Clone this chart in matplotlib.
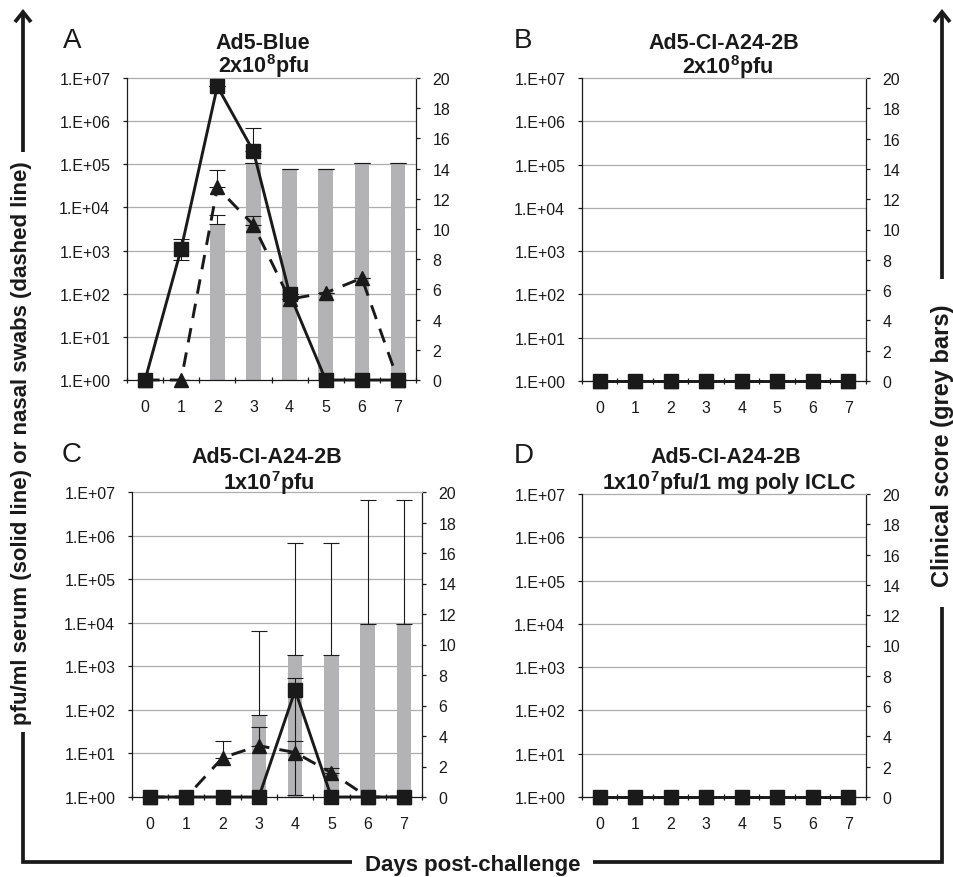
import matplotlib
matplotlib.use("Agg")
import matplotlib.pyplot as plt
import matplotlib.transforms as mtrans
from matplotlib.lines import Line2D
from matplotlib.ticker import NullLocator, FixedLocator

plt.rcParams['font.family'] = ['Liberation Sans', 'DejaVu Sans']
plt.rcParams['mathtext.fontset'] = 'custom'
plt.rcParams['mathtext.rm'] = 'Liberation Sans:bold'
plt.rcParams['mathtext.it'] = 'Liberation Sans:bold'
plt.rcParams['mathtext.bf'] = 'Liberation Sans:bold'

# ---------------- data ----------------
days = [0, 1, 2, 3, 4, 5, 6, 7]
day_labels = ['0', '1', '2', '3', '4', '5', '6', '7']
log_ticks = [1e0, 1e1, 1e2, 1e3, 1e4, 1e5, 1e6, 1e7]
log_tick_labels = ['1.E+00', '1.E+01', '1.E+02', '1.E+03', '1.E+04', '1.E+05', '1.E+06', '1.E+07']
score_ticks = [0, 2, 4, 6, 8, 10, 12, 14, 16, 18, 20]

# Panel A: Ad5-Blue 2x10^8 pfu
A_serum = [1, 1.1e3, 6.4e6, 2.0e5, 1.0e2, 1, 1, 1]
A_serum_err_up = [0, 800, 0, 4.9e5, 0, 0, 0, 0]
A_serum_err_dn = [0, 500, 0, 0, 0, 0, 0, 0]
A_nasal = [1, 1, 2.9e4, 3.9e3, 75, 105, 230, 1]
A_nasal_err_up = [0, 0, 4.5e4, 2.4e3, 0, 0, 0, 0]
A_score = [0, 0, 10.3, 14.4, 14.0, 14.0, 14.4, 14.4]
A_score_err = [0, 0, 0.6, 0, 0, 0, 0, 0]

# Panel B: Ad5-CI-A24-2B 2x10^8 pfu
B_serum = [1, 1, 1, 1, 1, 1, 1, 1]
B_nasal = [1, 1, 1, 1, 1, 1, 1, 1]
B_score = [0, 0, 0, 0, 0, 0, 0, 0]

# Panel C: Ad5-CI-A24-2B 1x10^7 pfu
C_serum = [1, 1, 1, 1, 280, 1, 1, 1]
C_serum_err_up = [0, 0, 0, 0, 270, 0, 0, 0]
C_serum_err_dn = [0, 0, 0, 0, 278.9, 0, 0, 0]
C_nasal = [1, 1, 8.0, 15, 10.5, 3.6, 1, 1]
C_nasal_err_up = [0, 0, 11.4, 26, 8.9, 1.1, 0, 0]
C_score = [0, 0, 0, 5.4, 9.33, 9.33, 11.35, 11.35]
C_score_err = [0, 0, 0, 5.5, 7.34, 7.34, 8.15, 8.15]

# Panel D: Ad5-CI-A24-2B 1x10^7 pfu / 1 mg poly ICLC
D_serum = [1, 1, 1, 1, 1, 1, 1, 1]
D_nasal = [1, 1, 1, 1, 1, 1, 1, 1]
D_score = [0, 0, 0, 0, 0, 0, 0, 0]

title_line1 = ['Ad5-Blue', 'Ad5-CI-A24-2B', 'Ad5-CI-A24-2B', 'Ad5-CI-A24-2B']
title_line2 = [r'2x10$^{8}$pfu', r'2x10$^{8}$pfu', r'1x10$^{7}$pfu', r'1x10$^{7}$pfu/1 mg poly ICLC']
letters = ['A', 'B', 'C', 'D']
left_label = 'pfu/ml serum (solid line) or nasal swabs (dashed line)'
right_label = 'Clinical score (grey bars)'
bottom_label = 'Days post-challenge'

# ---------------- layout ----------------
W, H = 954, 878
fig = plt.figure(figsize=(W / 100, H / 100), dpi=100)
fig.patch.set_facecolor('white')

def fx(x):
    return x / W

def fy(y):
    return 1 - y / H

BAR_COLOR = '#b3b3b5'
GRID_COLOR = '#adadad'
INK = '#1a1a1a'

panel_boxes = [(127, 79, 416, 381), (582, 79, 866, 382), (132, 493, 422, 798), (582, 495, 866, 798)]
title_pos = [((263, 49), (264, 73)), ((724, 49), (728, 74)), ((267, 463), (269, 490)), ((726, 463), (729, 490))]
letter_pos = [(63, 48), (514, 48), (62, 462), (514, 463)]

zeros = [0] * 8
serum_list = [A_serum, B_serum, C_serum, D_serum]
serum_up = [A_serum_err_up, zeros, C_serum_err_up, zeros]
serum_dn = [A_serum_err_dn, zeros, C_serum_err_dn, zeros]
nasal_list = [A_nasal, B_nasal, C_nasal, D_nasal]
nasal_up = [A_nasal_err_up, zeros, C_nasal_err_up, zeros]
score_list = [A_score, B_score, C_score, D_score]
score_err = [A_score_err, zeros, C_score_err, zeros]

for i in range(4):
    l, t, r, b = panel_boxes[i]
    axb = fig.add_axes([fx(l), fy(b), fx(r - l), (b - t) / H])
    axl = axb.twinx()
    axb.yaxis.tick_right()
    axl.yaxis.tick_left()

    # bar (clinical score) axis
    axb.set_xlim(-0.5, 7.5)
    axb.set_ylim(0, 20)
    axb.set_yticks(score_ticks)
    axb.set_yticklabels([str(v) for v in score_ticks])
    axb.tick_params(axis='y', which='major', direction='out', length=3, width=0.9,
                    color=INK, labelsize=11.5, labelcolor=INK, pad=9, right=True, left=False)
    axb.set_xticks(days)
    axb.set_xticklabels(day_labels)
    axb.xaxis.set_minor_locator(FixedLocator([d - 0.5 for d in days] + [7.5]))
    axb.tick_params(axis='x', which='major', length=0, labelsize=11.5, labelcolor=INK, pad=14)
    axb.tick_params(axis='x', which='minor', direction='inout', length=5, width=0.9, color=INK)

    axb.spines['left'].set_visible(False)
    axb.spines['right'].set_color(INK)
    axb.spines['right'].set_linewidth(0.9)
    axb.spines['bottom'].set_color(INK)
    axb.spines['bottom'].set_linewidth(0.9)
    axb.spines['top'].set_color(GRID_COLOR)
    axb.spines['top'].set_linewidth(0.9)

    # log axis
    axl.set_yscale('log')
    axl.set_ylim(1, 1e7)
    axl.set_yticks(log_ticks)
    axl.set_yticklabels(log_tick_labels)
    axl.yaxis.set_minor_locator(NullLocator())
    axl.tick_params(axis='y', which='major', direction='out', length=3, width=0.9,
                    color=INK, labelsize=11.5, labelcolor=INK, pad=9, left=True, right=False)
    for s in ['right', 'top', 'bottom']:
        axl.spines[s].set_visible(False)
    axl.spines['left'].set_color(INK)
    axl.spines['left'].set_linewidth(0.9)

    # gridlines (behind bars, positioned on log scale)
    gtrans = mtrans.blended_transform_factory(axb.transAxes, axl.transData)
    for v in log_ticks[1:-1]:
        axb.add_line(Line2D([0, 1], [v, v], transform=gtrans, color=GRID_COLOR, lw=0.9, zorder=0.5))

    # bars
    axb.bar(days, score_list[i], width=0.4, color=BAR_COLOR, zorder=2)
    axb.errorbar(days, score_list[i], yerr=[zeros, score_err[i]], fmt='none', ecolor=INK,
                 elinewidth=0.8, capsize=5.5, capthick=0.8, zorder=3)

    # error bars of lines
    axl.errorbar(days, nasal_list[i], yerr=[zeros, nasal_up[i]], fmt='none', ecolor=INK,
                 elinewidth=0.8, capsize=5.5, capthick=0.8, zorder=2)
    axl.errorbar(days, serum_list[i], yerr=[serum_dn[i], serum_up[i]], fmt='none', ecolor=INK,
                 elinewidth=0.8, capsize=5.5, capthick=0.8, zorder=2)
    # nasal swabs (dashed, triangles)
    axl.plot(days, nasal_list[i], color=INK, lw=2.1, linestyle=(0, (5, 3.5)), marker='^',
             markersize=9.5, markerfacecolor=INK, markeredgecolor=INK, zorder=3, clip_on=False)
    # serum (solid, squares)
    axl.plot(days, serum_list[i], color=INK, lw=2.1, linestyle='-', marker='s',
             markersize=10, markerfacecolor=INK, markeredgecolor=INK, zorder=4, clip_on=False)

    (t1x, t1y), (t2x, t2y) = title_pos[i]
    fig.text(fx(t1x), fy(t1y), title_line1[i], ha='center', va='baseline', fontsize=15.5,
             fontweight='bold', color=INK)
    fig.text(fx(t2x), fy(t2y), title_line2[i], ha='center', va='baseline', fontsize=15.5,
             fontweight='bold', color=INK)
    lx, ly = letter_pos[i]
    fig.text(fx(lx), fy(ly), letters[i], ha='left', va='baseline', fontsize=20, color=INK)

# ---------------- outer frame with arrows ----------------
FRAME_LW = 2.7

def seg(x0, y0, x1, y1):
    fig.add_artist(Line2D([fx(x0), fx(x1)], [fy(y0), fy(y1)], transform=fig.transFigure,
                          color=INK, lw=FRAME_LW, solid_capstyle='butt', solid_joinstyle='miter'))

def corner(xs, ys):
    fig.add_artist(Line2D([fx(x) for x in xs], [fy(y) for y in ys], transform=fig.transFigure,
                          color=INK, lw=FRAME_LW, solid_capstyle='butt', solid_joinstyle='miter'))

def arrowhead(x, y):
    fig.add_artist(Line2D([fx(x - 8), fx(x), fx(x + 8)], [fy(y + 10), fy(y), fy(y + 10)],
                          transform=fig.transFigure, color=INK, lw=FRAME_LW,
                          solid_capstyle='butt', solid_joinstyle='miter'))

# left side
seg(23, 13, 23, 153)
arrowhead(23, 13)
corner([23, 23, 352], [733, 863, 863])
# right side
seg(942, 13, 942, 280)
arrowhead(942, 13)
corner([593, 942, 942], [863, 863, 608])

fig.text(fx(22), fy(443), left_label, rotation=90, ha='center', va='center', fontsize=16,
         fontweight='bold', color=INK)
fig.text(fx(943), fy(446), right_label, rotation=90, ha='center', va='center', fontsize=17,
         fontweight='bold', color=INK)
fig.text(fx(473), fy(871), bottom_label, ha='center', va='baseline', fontsize=16,
         fontweight='bold', color=INK)

fig.savefig('out.png', dpi=100, facecolor='white')
